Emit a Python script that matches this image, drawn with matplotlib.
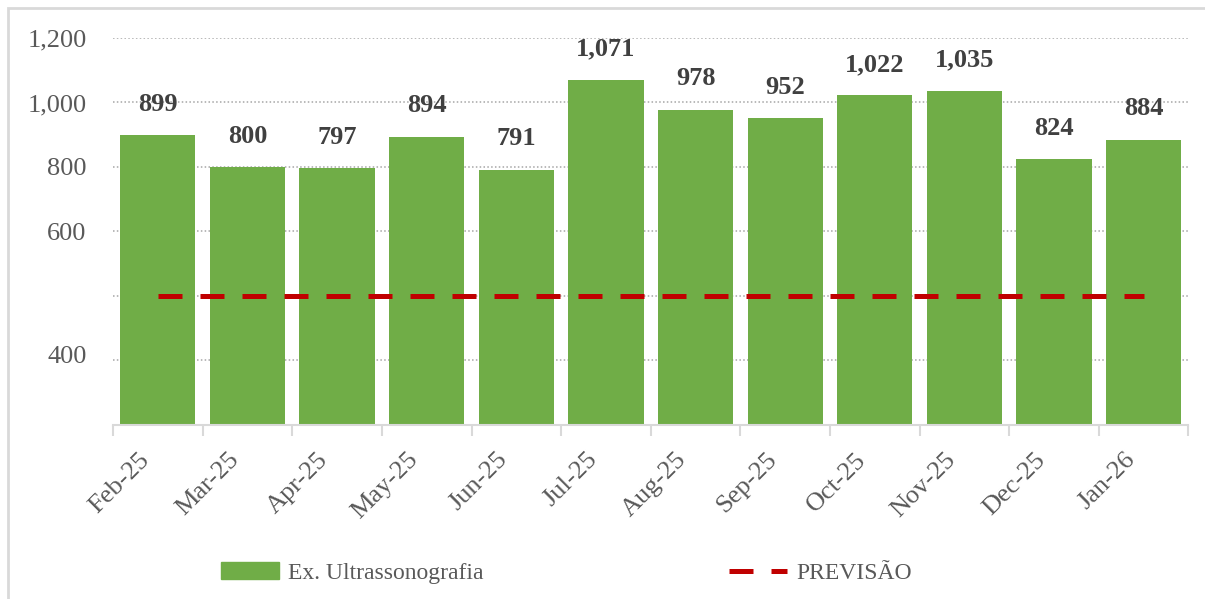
import matplotlib
matplotlib.use("Agg")
import matplotlib.pyplot as plt
from matplotlib.patches import Rectangle, Patch
from matplotlib.lines import Line2D
from matplotlib.transforms import ScaledTranslation

plt.rcParams['font.family'] = ['Liberation Serif', 'DejaVu Serif']

# data
months = ['Feb-25', 'Mar-25', 'Apr-25', 'May-25', 'Jun-25', 'Jul-25',
          'Aug-25', 'Sep-25', 'Oct-25', 'Nov-25', 'Dec-25', 'Jan-26']
exames = [899, 800, 797, 894, 791, 1071, 978, 952, 1022, 1035, 824, 884]
previsao = [400] * len(months)

# y ticks as they appear on the original (the 400 label sits oddly low)
y_ticks = [200, 400, 600, 800, 1000, 1200]
y_tick_labels = ['400', '', '600', '800', '1,000', '1,200']

bar_color = '#70ad47'
line_color = '#c00000'
text_gray = '#595959'
label_gray = '#404040'

fig = plt.figure(figsize=(12.05, 5.99), dpi=100)
ax = fig.add_axes([0.0938, 0.2905, 0.8925, 0.6461])

x = list(range(len(months)))
ax.bar(x, exames, width=0.84, color=bar_color, zorder=2)
ax.plot(x, previsao, color=line_color, lw=3.6, dashes=(4.8, 3.6),
        solid_capstyle='butt', dash_capstyle='butt', zorder=3)

for xi, v in zip(x, exames):
    ax.annotate(f'{v:,}', (xi, v), xytext=(0, 14), textcoords='offset points',
                ha='center', va='bottom', fontsize=19, fontweight='bold',
                color=label_gray)

ax.set_xlim(-0.5, len(months) - 0.5)
ax.set_ylim(0, 1200)
ax.set_yticks(y_ticks)
ax.set_yticklabels(y_tick_labels)
ax.grid(axis='y', color='#a6a6a6', linestyle=(0, (1, 1.5)), lw=1.1, zorder=0)

ax.set_xticks(x)
ax.set_xticklabels(months, rotation=45, ha='right', rotation_mode='anchor')
ax.set_xticks([i - 0.5 for i in range(len(months) + 1)], minor=True)
ax.tick_params(axis='x', which='major', length=0, pad=17, labelsize=19,
               labelcolor=text_gray)
ax.tick_params(axis='x', which='minor', length=8, width=1.5, color='#d9d9d9')
ax.tick_params(axis='y', length=0, pad=19, labelsize=19, labelcolor=text_gray)

# shift x labels left so they end just before the category centre
shift = ScaledTranslation(-20 / 100, 0, fig.dpi_scale_trans)
for lab in ax.get_xticklabels():
    lab.set_transform(lab.get_transform() + shift)
# the lone "400" label sits a little above its gridline
ax.get_yticklabels()[0].set_transform(
    ax.get_yticklabels()[0].get_transform()
    + ScaledTranslation(0, 6 / 100, fig.dpi_scale_trans))

for s in ['top', 'right', 'left']:
    ax.spines[s].set_visible(False)
ax.spines['bottom'].set_color('#d9d9d9')
ax.spines['bottom'].set_linewidth(1.5)

handles = [Patch(color=bar_color, label='Ex. Ultrassonografia'),
           Line2D([0], [0], color=line_color, lw=3.6, dashes=(4.8, 3.6),
                  label='PREVISÃO')]
fig.legend(handles=handles, loc='center', bbox_to_anchor=(0.47, 0.043),
           ncol=2, frameon=False, fontsize=17, labelcolor=text_gray,
           columnspacing=10.4, handlelength=2.45, handletextpad=0.4)

# chart border
fig.patches.append(Rectangle((8 / 1205, -0.05), 1.2, 1 - 8 / 599 + 0.05,
                             transform=fig.transFigure, fill=False,
                             edgecolor='#d9d9d9', lw=2))

fig.savefig('out.png', dpi=100)
